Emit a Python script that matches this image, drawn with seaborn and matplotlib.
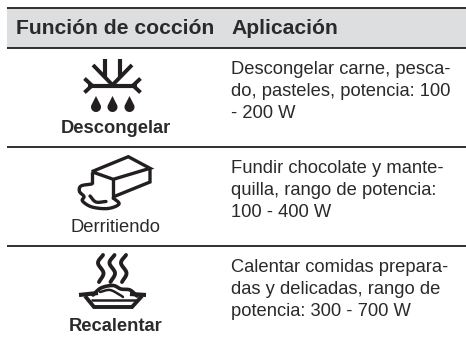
import numpy as np
import matplotlib
matplotlib.use("Agg")
import matplotlib.pyplot as plt
from matplotlib.patches import Rectangle
import seaborn as sns

sns.set_theme(style="white")
plt.rcParams['font.family'] = ['Liberation Sans', 'DejaVu Sans']

headers = ["Función de cocción", "Aplicación"]
functions = ["Descongelar", "Derritiendo", "Recalentar"]
function_weights = ["bold", "normal", "bold"]
applications = [
    ["Descongelar carne, pesca-", "do, pasteles, potencia: 100", "- 200 W"],
    ["Fundir chocolate y mante-", "quilla, rango de potencia:", "100 - 400 W"],
    ["Calentar comidas prepara-", "das y delicadas, rango de", "potencia: 300 - 700 W"],
]

INK = "#231f20"
TXT = "#2a2a2a"
fig = plt.figure(figsize=(4.66, 3.40), dpi=100, facecolor="white")
ax = fig.add_axes([0, 0, 1, 1])
ax.set_xlim(0, 466)
ax.set_ylim(340, 0)
ax.axis("off")


def stroke(pts, lw=2.4, closed=False):
    p = np.array(pts, float)
    if closed:
        p = np.vstack([p, p[0]])
    ax.plot(p[:, 0], p[:, 1], color=INK, lw=lw, solid_capstyle="butt", solid_joinstyle="miter")


def smooth(pts, lw=2.4, n=14):
    p = np.array(pts, float)
    q = np.vstack([2 * p[0] - p[1], p, 2 * p[-1] - p[-2]])
    out = []
    for i in range(1, len(q) - 2):
        for t in np.linspace(0, 1, n, endpoint=False):
            out.append(0.5 * (2 * q[i] + (q[i + 1] - q[i - 1]) * t
                              + (2 * q[i - 1] - 5 * q[i] + 4 * q[i + 1] - q[i + 2]) * t ** 2
                              + (3 * q[i] - q[i - 1] - 3 * q[i + 1] + q[i + 2]) * t ** 3))
    out.append(p[-1])
    out = np.array(out)
    ax.plot(out[:, 0], out[:, 1], color=INK, lw=lw, solid_capstyle="round")


def drop(cx, top, bottom, w):
    r = w / 2
    cy = bottom - r
    a = np.linspace(-0.35, np.pi + 0.35, 30)
    xs = [cx] + list(cx + r * np.cos(a)) + [cx]
    ys = [top] + list(cy + r * np.sin(a)) + [top]
    ax.fill(xs, ys, color=INK, lw=0)


def snowflake():
    stroke([(88, 85.5), (137, 85.5)], 3.0)
    stroke([(84.5, 78.5), (92, 85.5), (84.5, 92.5)], 2.8)
    stroke([(140.5, 78.5), (133, 85.5), (140.5, 92.5)], 2.8)
    stroke([(93, 65), (112.5, 85), (132, 65)], 2.8)
    stroke([(105, 59), (105, 78)], 3.0)
    stroke([(120, 59), (120, 78)], 3.0)
    for cx in (96, 112.5, 129.5):
        drop(cx, 96, 112, 10)


def butter():
    stroke([(91.7, 171.7), (128.3, 156.7), (150, 168.3), (113.3, 179.3)], 2.4, closed=True)
    stroke([(150, 168.3), (150, 182), (113, 197)], 2.4)
    stroke([(113.3, 179.3), (113.3, 199)], 2.4)
    stroke([(91.7, 171.7), (91.7, 184)], 2.4)
    smooth([(91.7, 184), (81, 186), (79.5, 191.5), (84, 196.5), (82.5, 201), (92, 207),
            (108, 208.5), (119, 204), (113.3, 198)], 2.4)
    smooth([(90, 196), (96, 202), (106, 201.5)], 2.4)


def dish():
    for x0 in (103, 114.5, 126):
        smooth([(x0, 255), (x0 - 5, 263), (x0 + 0.5, 273), (x0 - 4, 282)], 2.8)
    stroke([(79, 295), (98, 293)], 3.0)
    stroke([(146, 295), (130, 294)], 3.0)
    stroke([(85, 296), (94, 307), (132, 307), (142, 296)], 2.8)
    stroke([(91, 299.5), (136, 299.5)], 1.8)
    smooth([(93, 295), (101, 288), (113, 285.5), (121, 289), (130, 290), (137, 296)], 2.6)
    smooth([(100, 292), (110, 290), (120, 295), (123, 297)], 1.8)


# table chrome
ax.add_patch(Rectangle((7, 8), 459, 40, fc="#dcdee0", ec="none", zorder=0))
for y in (8, 48, 147, 246):
    ax.plot([7, 466], [y, y], color=INK, lw=1.3, solid_capstyle="butt")

# header
ax.text(16, 33.5, headers[0], fontsize=15.2, fontweight="bold", color=TXT, va="baseline")
ax.text(231, 33.5, headers[1], fontsize=15.2, fontweight="bold", color=TXT, va="baseline")

# rows
label_baselines = [133, 231.7, 330.6]
text_baselines = [74, 173, 272]
for name, wt, yb, lines, y0 in zip(functions, function_weights, label_baselines, applications, text_baselines):
    ax.text(115.5, yb, name, fontsize=13.2, fontweight=wt, color=TXT, ha="center", va="baseline")
    for i, line in enumerate(lines):
        ax.text(231, y0 + i * 21.8, line, fontsize=13.2, color=TXT, va="baseline")

snowflake()
butter()
dish()

fig.savefig("out.png", dpi=100, facecolor="white")
